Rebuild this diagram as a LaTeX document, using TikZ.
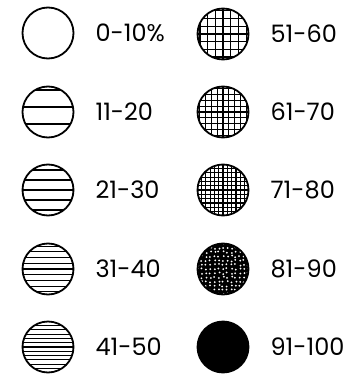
\documentclass[tikz,border=0pt]{standalone}
\usepackage{fontspec}
\setmainfont{Poppins}
\usetikzlibrary{positioning}
\pgfmathsetseed{7}
\tikzset{
  disc/.style={circle,draw,line width=1.8pt,minimum size=51pt,inner sep=0pt},
  rules/.style 2 args={disc,path picture={
    \foreach \k in {-12,...,12}
      \draw[line width=1.1pt] ([yshift=\k*#1pt+#2pt]path picture bounding box.west) -- ([yshift=\k*#1pt+#2pt]path picture bounding box.east);}},
  mesh/.style={disc,path picture={
    \foreach \k in {-12,...,12}{
      \draw[line width=1.2pt] ([yshift=\k*#1pt]path picture bounding box.west) -- ([yshift=\k*#1pt]path picture bounding box.east);
      \draw[line width=1.2pt] ([xshift=\k*#1pt]path picture bounding box.south) -- ([xshift=\k*#1pt]path picture bounding box.north);}}},
  stipple/.style={disc,fill=black,path picture={
    \foreach \i in {-7,...,7}
      \foreach \j in {-7,...,7}
        \fill[white] ([xshift=\i*4.2pt+rand*0.9pt,yshift=\j*4.2pt+rand*0.9pt]path picture bounding box.center) circle (1pt);}},
  lbl/.style={font=\fontsize{24}{24}\selectfont,inner sep=0pt,right=21pt of #1},
}
\begin{document}
\begin{tikzpicture}[x=1pt,y=-1pt]
\useasboundingbox (0,0) rectangle (345,377);
% left column
\node[disc] (c0) at (48,33) {};
\node[rules={17}{5}] (c11) at (48,112) {};
\node[rules={10}{0}] (c21) at (48,190) {};
\node[rules={5.7}{0}] (c31) at (48,269) {};
\node[rules={4.3}{0}] (c41) at (48,347) {};
% right column
\node[mesh=7.7] (c51) at (223,34) {};
\node[mesh=5.8] (c61) at (223,112) {};
\node[mesh=4.3] (c71) at (223,190) {};
\node[stipple] (c81) at (223,269) {};
\node[disc,fill=black] (c91) at (223,347) {};
% labels
\node[lbl=c0] (t0) {0-10\%};
\node[lbl=c11] (t11) {11-20};
\node[lbl=c21] (t21) {21-30};
\node[lbl=c31] (t31) {31-40};
\node[lbl=c41] (t41) {41-50};
\node[lbl=c51] (t51) {51-60};
\node[lbl=c61] (t61) {61-70};
\node[lbl=c71] (t71) {71-80};
\node[lbl=c81] (t81) {81-90};
\node[lbl=c91] (t91) {91-100};
\end{tikzpicture}
\end{document}
